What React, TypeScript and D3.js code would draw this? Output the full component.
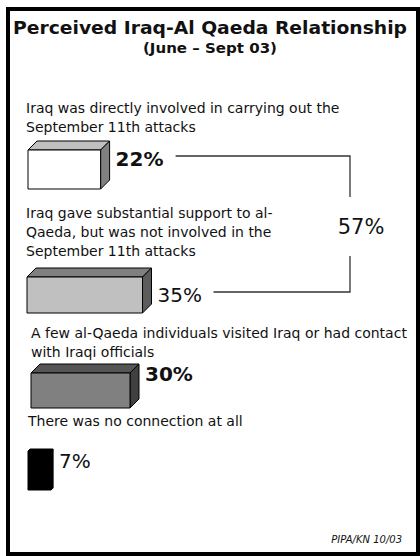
import React from "react";
import * as d3 from "d3";

// ---- data ----
const categories: string[][] = [
  ["Iraq was directly involved in carrying out the", "September 11th attacks"],
  ["Iraq gave substantial support to al-", "Qaeda, but was not involved in the", "September 11th attacks"],
  ["A few al-Qaeda individuals visited Iraq or had contact", "with Iraqi officials"],
  ["There was no connection at all"],
];
const values: number[] = [22, 35, 30, 7];
const combinedIdx: number[] = [0, 1];
const title = "Perceived Iraq-Al Qaeda Relationship";
const subtitle = "(June \u2013 Sept 03)";
const source = "PIPA/KN 10/03";

// ---- layout / style ----
const W = 420;
const H = 556;
const layout = [
  { lx: 26, base: 113, barX: 28, barTop: 150, barH: 39, depth: 9, pctBase: 166, weight: "bold" },
  { lx: 26, base: 218, barX: 27, barTop: 277, barH: 36, depth: 9, pctBase: 302, weight: "normal" },
  { lx: 31, base: 338, barX: 31, barTop: 373, barH: 35, depth: 9, pctBase: 381, weight: "bold" },
  { lx: 28, base: 426, barX: 28, barTop: 451, barH: 39, depth: 2, pctBase: 468, weight: "normal" },
];
const fills = [
  { front: "#ffffff", top: "#c0c0c0", side: "#808080" },
  { front: "#c0c0c0", top: "#808080", side: "#5c5c5c" },
  { front: "#808080", top: "#555555", side: "#404040" },
  { front: "#000000", top: "#000000", side: "#000000" },
];
const FONT = "'DejaVu Sans', Verdana, sans-serif";

export default function App() {
  const x = d3.scaleLinear().domain([0, 100]).range([0, 330]);
  const lineGap = 19;
  const pctGap = 6;
  const bracketX = 350;

  const bars = values.map((v, i) => {
    const L = layout[i];
    const w = x(v);
    const x0 = L.barX, y0 = L.barTop, d = L.depth, h = L.barH;
    const front = d3.path();
    front.rect(x0, y0, w, h);
    const top = d3.line()([
      [x0, y0], [x0 + d, y0 - d], [x0 + w + d, y0 - d], [x0 + w, y0],
    ]) + "Z";
    const side = d3.line()([
      [x0 + w, y0], [x0 + w + d, y0 - d], [x0 + w + d, y0 + h - d], [x0 + w, y0 + h],
    ]) + "Z";
    return { i, v, w, x0, y0, d, h, front: front.toString(), top, side, right: x0 + w + d };
  });

  const combined = d3.sum(combinedIdx, (i) => values[i]);
  const pctLabelW = 48;
  const a = bars[combinedIdx[0]];
  const b = bars[combinedIdx[1]];
  const ay = layout[a.i].pctBase - 10;
  const by = layout[b.i].pctBase - 10;
  const bracketTop = d3.line()([
    [a.right + pctGap + pctLabelW + 12, ay], [bracketX, ay], [bracketX, ay + 41],
  ]);
  const bracketBot = d3.line()([
    [bracketX, by - 36], [bracketX, by], [b.right + pctGap + pctLabelW + 8, by],
  ]);

  return (
    <svg
      width={W}
      height={H}
      style={{ position: "absolute", left: 0, top: 0, background: "#fff" }}
    >
      <rect x={8} y={9} width={410} height={545} fill="#fff" stroke="#000" strokeWidth={4} />
      <text
        x={210}
        y={34}
        textAnchor="middle"
        fontFamily={FONT}
        fontWeight="bold"
        fontSize={18.4}
        textLength={394}
        lengthAdjust="spacingAndGlyphs"
        fill="#111"
      >
        {title}
      </text>
      <text x={210} y={53} textAnchor="middle" fontFamily={FONT} fontWeight="bold" fontSize={14.5}
        textLength={134} lengthAdjust="spacingAndGlyphs" fill="#111">
        {subtitle}
      </text>

      {categories.map((lines, i) => (
        <text key={"l" + i} fontFamily={FONT} fontSize={14} fill="#111">
          {lines.map((ln, j) => (
            <tspan key={j} x={layout[i].lx} y={layout[i].base + j * lineGap}>
              {ln}
            </tspan>
          ))}
        </text>
      ))}

      {bars.map((bb) => (
        <g key={"b" + bb.i} stroke="#000" strokeWidth={1} strokeLinejoin="round">
          <path d={bb.top} fill={fills[bb.i].top} />
          <path d={bb.side} fill={fills[bb.i].side} />
          <path d={bb.front} fill={fills[bb.i].front} />
        </g>
      ))}

      {bars.map((bb) => (
        <text
          key={"p" + bb.i}
          x={bb.right + pctGap}
          y={layout[bb.i].pctBase}
          fontFamily={FONT}
          fontWeight={layout[bb.i].weight}
          fontSize={20}
          fill="#111"
        >
          {bb.v + "%"}
        </text>
      ))}

      <path d={bracketTop || ""} fill="none" stroke="#333" strokeWidth={1.3} />
      <path d={bracketBot || ""} fill="none" stroke="#333" strokeWidth={1.3} />
      <text x={361} y={234} textAnchor="middle" fontFamily={FONT} fontSize={21} fill="#111">
        {combined + "%"}
      </text>

      <text x={402} y={543} textAnchor="end" fontFamily={FONT} fontStyle="italic" fontSize={10} fill="#111">
        {source}
      </text>
    </svg>
  );
}
